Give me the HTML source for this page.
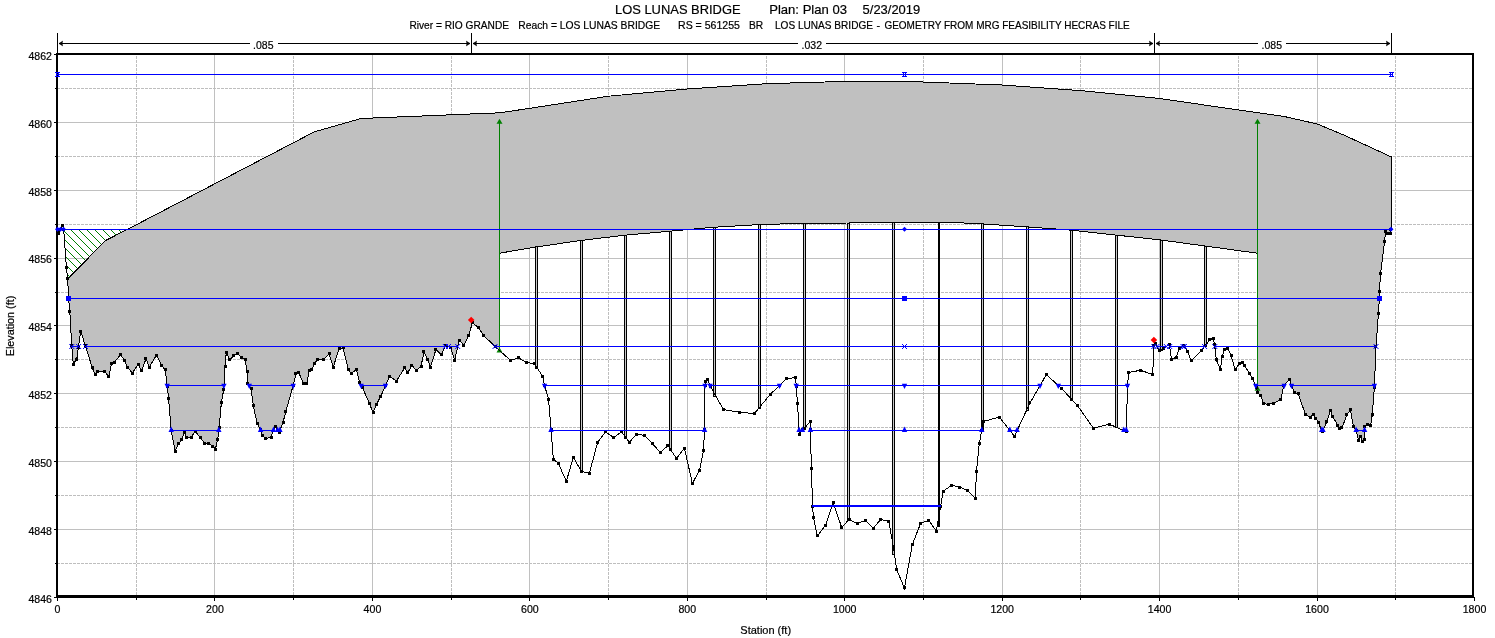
<!DOCTYPE html>
<html><head><meta charset="utf-8"><title>LOS LUNAS BRIDGE</title>
<style>html,body{margin:0;padding:0;background:#fff}svg{display:block}</style></head>
<body>
<svg width="1495" height="638" viewBox="0 0 1495 638" font-family="'Liberation Sans', Arial, sans-serif" fill="#000"><style>text{stroke:#000;stroke-width:0.2px}</style>
<rect width="1495" height="638" fill="#fff"/>
<g stroke="#c0c0c0" stroke-width="1" shape-rendering="crispEdges">
<line x1="214.5" y1="55" x2="214.5" y2="596"/>
<line x1="372.5" y1="55" x2="372.5" y2="596"/>
<line x1="529.5" y1="55" x2="529.5" y2="596"/>
<line x1="687.5" y1="55" x2="687.5" y2="596"/>
<line x1="844.5" y1="55" x2="844.5" y2="596"/>
<line x1="1002.5" y1="55" x2="1002.5" y2="596"/>
<line x1="1159.5" y1="55" x2="1159.5" y2="596"/>
<line x1="1317.5" y1="55" x2="1317.5" y2="596"/>
<line x1="58" y1="529.5" x2="1472" y2="529.5"/>
<line x1="58" y1="461.5" x2="1472" y2="461.5"/>
<line x1="58" y1="393.5" x2="1472" y2="393.5"/>
<line x1="58" y1="325.5" x2="1472" y2="325.5"/>
<line x1="58" y1="258.5" x2="1472" y2="258.5"/>
<line x1="58" y1="190.5" x2="1472" y2="190.5"/>
<line x1="58" y1="122.5" x2="1472" y2="122.5"/>
</g>
<g stroke="#bebebe" stroke-width="1" stroke-dasharray="3 1" shape-rendering="crispEdges">
<line x1="136.5" y1="56" x2="136.5" y2="596"/>
<line x1="293.5" y1="56" x2="293.5" y2="596"/>
<line x1="451.5" y1="56" x2="451.5" y2="596"/>
<line x1="608.5" y1="56" x2="608.5" y2="596"/>
<line x1="766.5" y1="56" x2="766.5" y2="596"/>
<line x1="923.5" y1="56" x2="923.5" y2="596"/>
<line x1="1080.5" y1="56" x2="1080.5" y2="596"/>
<line x1="1238.5" y1="56" x2="1238.5" y2="596"/>
<line x1="1395.5" y1="56" x2="1395.5" y2="596"/>
<line x1="57" y1="563.5" x2="1472" y2="563.5"/>
<line x1="57" y1="495.5" x2="1472" y2="495.5"/>
<line x1="57" y1="427.5" x2="1472" y2="427.5"/>
<line x1="57" y1="359.5" x2="1472" y2="359.5"/>
<line x1="57" y1="292.5" x2="1472" y2="292.5"/>
<line x1="57" y1="224.5" x2="1472" y2="224.5"/>
<line x1="57" y1="156.5" x2="1472" y2="156.5"/>
<line x1="57" y1="88.5" x2="1472" y2="88.5"/>
</g>
<g shape-rendering="crispEdges">
<path d="M56,53 H1474 V598 H56 Z M58,55 V595 H1472 V55 Z" fill="#000" fill-rule="evenodd"/>
<g stroke="#000" stroke-width="1">
<line x1="54" y1="597.5" x2="56" y2="597.5"/>
<line x1="55" y1="563.5" x2="56" y2="563.5"/>
<line x1="54" y1="529.5" x2="56" y2="529.5"/>
<line x1="55" y1="495.5" x2="56" y2="495.5"/>
<line x1="54" y1="461.5" x2="56" y2="461.5"/>
<line x1="55" y1="427.5" x2="56" y2="427.5"/>
<line x1="54" y1="393.5" x2="56" y2="393.5"/>
<line x1="55" y1="359.5" x2="56" y2="359.5"/>
<line x1="54" y1="325.5" x2="56" y2="325.5"/>
<line x1="55" y1="292.5" x2="56" y2="292.5"/>
<line x1="54" y1="258.5" x2="56" y2="258.5"/>
<line x1="55" y1="224.5" x2="56" y2="224.5"/>
<line x1="54" y1="190.5" x2="56" y2="190.5"/>
<line x1="55" y1="156.5" x2="56" y2="156.5"/>
<line x1="54" y1="122.5" x2="56" y2="122.5"/>
<line x1="55" y1="88.5" x2="56" y2="88.5"/>
<line x1="54" y1="54.5" x2="56" y2="54.5"/>
<line x1="57.5" y1="597" x2="57.5" y2="601"/>
<line x1="136.5" y1="597" x2="136.5" y2="600"/>
<line x1="214.5" y1="597" x2="214.5" y2="601"/>
<line x1="293.5" y1="597" x2="293.5" y2="600"/>
<line x1="372.5" y1="597" x2="372.5" y2="601"/>
<line x1="451.5" y1="597" x2="451.5" y2="600"/>
<line x1="529.5" y1="597" x2="529.5" y2="601"/>
<line x1="608.5" y1="597" x2="608.5" y2="600"/>
<line x1="687.5" y1="597" x2="687.5" y2="601"/>
<line x1="766.5" y1="597" x2="766.5" y2="600"/>
<line x1="844.5" y1="597" x2="844.5" y2="601"/>
<line x1="923.5" y1="597" x2="923.5" y2="600"/>
<line x1="1002.5" y1="597" x2="1002.5" y2="601"/>
<line x1="1080.5" y1="597" x2="1080.5" y2="600"/>
<line x1="1159.5" y1="597" x2="1159.5" y2="601"/>
<line x1="1238.5" y1="597" x2="1238.5" y2="600"/>
<line x1="1317.5" y1="597" x2="1317.5" y2="601"/>
<line x1="1395.5" y1="597" x2="1395.5" y2="600"/>
<line x1="1474.5" y1="597" x2="1474.5" y2="601"/>
</g></g>
<defs><pattern id="h" width="8" height="8" patternUnits="userSpaceOnUse" patternTransform="translate(1,0)"><path d="M-1,-1 L9,9 M-1,7 L1,9 M7,-1 L9,1" stroke="#008000" stroke-width="1" fill="none"/></pattern></defs>
<polygon points="63.7,229.5 127.2,229.5 105.2,240.7 67.8,279.0 66.4,267.2" fill="url(#h)"/>
<polygon points="67.8,279.0 105.2,240.7 127.8,229.2 314.2,131.9 361.0,118.5 499.5,112.8 529.4,108.4 608.4,96.2 687.4,89.0 766.4,83.7 842.0,81.5 900.0,81.5 922.8,82.0 1001.8,85.0 1080.8,90.6 1159.8,98.5 1238.8,110.0 1257.3,112.6 1284.3,116.5 1317.3,124.0 1345.5,135.8 1391.5,157.0 1391.5,229.3 1390.9,229.3 1390.9,233.8 1388.0,233.0 1385.6,231.3 1384.6,241.4 1380.6,273.4 1379.4,291.5 1379.4,298.2 1378.4,313.3 1376.0,346.8 1374.3,388.0 1372.3,414.8 1370.6,425.3 1367.3,424.7 1364.6,426.9 1364.6,439.6 1362.2,441.4 1360.3,436.3 1358.5,440.3 1356.3,430.8 1353.5,426.4 1350.4,410.0 1346.9,414.8 1342.0,428.0 1339.2,428.3 1337.7,425.0 1332.5,416.2 1330.6,410.6 1326.7,422.0 1322.3,432.0 1318.3,422.5 1315.8,418.3 1313.5,414.4 1310.2,417.2 1305.4,414.4 1298.2,393.5 1294.9,392.9 1291.6,385.8 1289.4,379.3 1283.9,385.8 1280.6,399.4 1274.0,403.4 1268.5,404.3 1263.8,403.7 1260.6,395.7 1257.5,392.3 1257.3,391.3 1257.3,253.2 1205.2,246.0 1160.8,240.0 1116.3,235.1 1071.9,230.2 1027.5,226.9 982.0,223.9 955.7,222.6 893.0,222.8 848.7,223.0 804.2,223.3 759.1,224.6 714.4,227.2 670.3,231.2 625.8,235.1 581.4,240.4 536.0,247.0 499.5,253.2 499.5,350.5 495.0,346.5 483.4,335.3 478.7,327.7 472.4,322.8 468.6,335.7 464.0,345.0 459.0,340.4 454.7,360.4 450.5,347.0 445.8,345.8 441.0,354.5 436.0,349.4 430.5,367.0 428.0,360.0 424.0,352.0 421.0,366.3 416.4,370.5 412.0,365.4 408.0,372.4 404.7,368.0 396.4,381.0 389.4,376.4 385.4,385.8 380.7,396.4 376.4,404.6 373.0,412.4 369.4,403.4 362.3,387.5 359.5,382.3 356.5,369.4 351.3,373.4 348.6,370.0 343.0,347.6 339.0,348.8 333.3,367.0 329.0,354.0 324.0,359.4 318.0,359.4 314.5,363.0 312.0,369.5 309.3,370.7 306.7,383.6 304.0,384.0 298.5,372.3 296.0,373.5 293.3,385.0 285.8,411.6 283.0,422.4 279.0,432.7 275.0,426.4 271.0,437.0 265.6,438.8 262.8,435.8 260.4,430.0 257.0,423.0 253.4,406.0 251.0,388.8 248.0,383.0 247.0,371.0 245.0,359.4 241.6,357.7 237.4,353.5 233.4,355.8 230.0,360.0 226.3,352.3 225.0,366.4 223.7,389.8 221.4,402.2 219.2,427.3 217.7,439.6 215.4,449.0 212.3,446.1 208.7,443.3 204.7,443.8 200.7,437.7 195.2,431.7 191.0,437.0 186.4,437.0 184.2,431.6 181.9,439.8 178.9,443.6 175.1,451.0 171.2,430.5 168.6,398.4 167.3,386.3 165.2,370.0 161.7,365.7 156.5,355.0 149.2,367.0 146.0,358.7 141.7,370.7 138.2,364.5 132.3,373.0 127.6,367.0 124.4,360.2 120.5,354.6 114.2,362.6 111.6,363.5 108.9,376.3 104.5,371.7 98.0,372.0 95.0,374.2 92.4,368.0 85.2,345.5 80.8,331.0 78.5,347.0 76.8,359.0 73.3,364.2 71.7,345.7 69.8,311.0 68.5,298.5" fill="#c0c0c0"/>
<g fill="none" stroke="#000" stroke-width="1" shape-rendering="crispEdges">
<polyline points="67.8,279.0 105.2,240.7 127.8,229.2 314.2,131.9 361.0,118.5 499.5,112.8 529.4,108.4 608.4,96.2 687.4,89.0 766.4,83.7 842.0,81.5 900.0,81.5 922.8,82.0 1001.8,85.0 1080.8,90.6 1159.8,98.5 1238.8,110.0 1257.3,112.6 1284.3,116.5 1317.3,124.0 1345.5,135.8 1391.5,157.0 1391.5,229.3"/>
<polyline points="499.5,253.2 536.0,247.0 581.4,240.4 625.8,235.1 670.3,231.2 714.4,227.2 759.1,224.6 804.2,223.3 848.7,223.0 893.0,222.8 955.7,222.6 982.0,223.9 1027.5,226.9 1071.9,230.2 1116.3,235.1 1160.8,240.0 1205.2,246.0 1257.3,253.2"/>
</g>
<g fill="#c8c8c8" stroke="#000" stroke-width="1" shape-rendering="crispEdges">
<rect x="535.5" y="246.9" width="2" height="121.4"/>
<rect x="580.5" y="240.4" width="2" height="231.3"/>
<rect x="624.5" y="235.1" width="2" height="203.8"/>
<rect x="669.5" y="231.2" width="2" height="219.5"/>
<rect x="713.5" y="227.2" width="2" height="169.0"/>
<rect x="758.5" y="224.6" width="2" height="183.8"/>
<rect x="803.5" y="223.3" width="2" height="206.3"/>
<rect x="847.5" y="223.0" width="2" height="297.7"/>
<rect x="892.5" y="222.8" width="2" height="331.4"/>
<rect x="937.5" y="222.7" width="2" height="304.3" fill="#000" stroke="none"/>
<rect x="981.5" y="223.9" width="2" height="207.0"/>
<rect x="1026.5" y="226.9" width="2" height="183.9"/>
<rect x="1070.5" y="230.2" width="2" height="170.5"/>
<rect x="1115.5" y="235.1" width="2" height="192.6"/>
<rect x="1160.5" y="240.1" width="2" height="110.1"/>
<rect x="1204.5" y="246.1" width="2" height="100.2"/>
</g>
<line x1="499.5" y1="121" x2="499.5" y2="350.5" stroke="#008000" stroke-width="1" shape-rendering="crispEdges"/>
<path d="M499.5,118.8 l-3,5 h6 z" fill="#008000"/>
<path d="M499.5,347.5 l-3,5 h6 z" fill="#008000"/>
<line x1="1257.5" y1="121" x2="1257.5" y2="391.3" stroke="#008000" stroke-width="1" shape-rendering="crispEdges"/>
<path d="M1257.5,118.8 l-3,5 h6 z" fill="#008000"/>
<path d="M1257.5,385.8 l-3,5 h6 z" fill="#008000"/>
<polyline points="57.5,229.5 58.2,233.0 60.0,230.0 62.8,225.5 63.7,229.7 66.4,267.2 67.7,278.5 68.5,298.5 69.8,311.0 71.7,345.7 73.3,364.2 76.8,359.0 78.5,347.0 80.8,331.0 85.2,345.5 92.4,368.0 95.0,374.2 98.0,372.0 104.5,371.7 108.9,376.3 111.6,363.5 114.2,362.6 120.5,354.6 124.4,360.2 127.6,367.0 132.3,373.0 138.2,364.5 141.7,370.7 146.0,358.7 149.2,367.0 156.5,355.0 161.7,365.7 165.2,370.0 167.3,386.3 168.6,398.4 171.2,430.5 175.1,451.0 178.9,443.6 181.9,439.8 184.2,431.6 186.4,437.0 191.0,437.0 195.2,431.7 200.7,437.7 204.7,443.8 208.7,443.3 212.3,446.1 215.4,449.0 217.7,439.6 219.2,427.3 221.4,402.2 223.7,389.8 225.0,366.4 226.3,352.3 230.0,360.0 233.4,355.8 237.4,353.5 241.6,357.7 245.0,359.4 247.0,371.0 248.0,383.0 251.0,388.8 253.4,406.0 257.0,423.0 260.4,430.0 262.8,435.8 265.6,438.8 271.0,437.0 275.0,426.4 279.0,432.7 283.0,422.4 285.8,411.6 293.3,385.0 296.0,373.5 298.5,372.3 304.0,384.0 306.7,383.6 309.3,370.7 312.0,369.5 314.5,363.0 318.0,359.4 324.0,359.4 329.0,354.0 333.3,367.0 339.0,348.8 343.0,347.6 348.6,370.0 351.3,373.4 356.5,369.4 359.5,382.3 362.3,387.5 369.4,403.4 373.0,412.4 376.4,404.6 380.7,396.4 385.4,385.8 389.4,376.4 396.4,381.0 404.7,368.0 408.0,372.4 412.0,365.4 416.4,370.5 421.0,366.3 424.0,352.0 428.0,360.0 430.5,367.0 436.0,349.4 441.0,354.5 445.8,345.8 450.5,347.0 454.7,360.4 459.0,340.4 464.0,345.0 468.6,335.7 472.4,322.8 478.7,327.7 483.4,335.3 495.0,346.5 510.5,360.4 518.7,358.0 526.4,362.3 534.7,364.0 542.6,376.2 544.6,385.7 548.6,399.3 551.0,430.0 553.4,459.3 558.3,463.3 566.3,481.2 573.4,457.4 581.6,471.6 589.4,473.2 597.6,442.4 605.4,431.8 613.6,437.5 621.6,431.8 629.3,442.4 636.4,434.2 644.4,435.3 652.4,443.6 660.4,452.5 668.0,445.5 676.4,458.4 684.4,448.3 692.4,483.3 699.6,470.4 703.4,450.6 704.6,430.0 705.0,385.3 705.0,381.0 707.4,379.4 710.5,386.4 723.4,409.5 739.4,412.3 754.4,413.5 770.4,394.2 779.3,385.7 786.4,378.7 795.6,377.5 796.3,386.4 797.5,403.6 799.3,434.2 802.9,430.0 810.4,421.2 810.4,430.0 811.4,468.3 812.6,506.6 813.5,517.6 817.3,536.0 825.4,525.4 833.3,502.5 841.7,527.6 849.0,519.4 857.4,523.5 865.5,520.4 873.4,528.2 880.6,519.4 888.7,521.3 893.4,546.7 896.6,569.3 904.4,588.0 912.3,544.5 920.7,523.2 928.6,520.4 936.4,531.0 940.5,506.6 943.3,491.0 951.8,485.3 959.6,487.1 967.7,490.6 975.3,498.4 976.5,471.5 979.3,443.3 981.8,430.4 983.2,421.5 999.4,417.1 1014.4,436.4 1030.0,402.9 1046.4,374.5 1061.7,388.7 1077.2,405.2 1093.4,428.2 1109.4,424.2 1126.3,431.6 1127.5,385.8 1128.7,372.4 1140.5,370.3 1152.7,374.5 1153.9,345.4 1155.0,343.3 1159.3,350.6 1163.3,348.7 1169.4,344.2 1171.5,359.5 1176.4,357.1 1179.3,348.7 1184.0,345.9 1187.5,351.0 1191.2,360.7 1201.1,350.6 1205.1,345.9 1209.8,340.0 1213.3,338.1 1214.5,344.2 1216.4,360.0 1220.4,369.4 1222.3,356.4 1224.4,349.4 1227.4,348.2 1231.0,355.3 1235.2,370.0 1239.2,363.5 1242.7,362.3 1244.6,365.5 1249.8,374.0 1252.5,378.4 1256.6,387.6 1257.5,392.3 1260.6,395.7 1263.8,403.7 1268.5,404.3 1274.0,403.4 1280.6,399.4 1283.9,385.8 1289.4,379.3 1291.6,385.8 1294.9,392.9 1298.2,393.5 1305.4,414.4 1310.2,417.2 1313.5,414.4 1315.8,418.3 1318.3,422.5 1322.3,432.0 1326.7,422.0 1330.6,410.6 1332.5,416.2 1337.7,425.0 1339.2,428.3 1342.0,428.0 1346.9,414.8 1350.4,410.0 1353.5,426.4 1356.3,430.8 1358.5,440.3 1360.3,436.3 1362.2,441.4 1364.6,439.6 1364.6,426.9 1367.3,424.7 1370.6,425.3 1372.3,414.8 1374.3,388.0 1376.0,346.8 1378.4,313.3 1379.4,298.2 1379.4,291.5 1380.6,273.4 1384.6,241.4 1385.6,231.3 1388.0,233.0 1390.9,233.8 1390.9,229.3" fill="none" stroke="#000" stroke-width="1" shape-rendering="crispEdges"/>
<g fill="#000" shape-rendering="crispEdges">
<rect x="56" y="228" width="3" height="3"/>
<rect x="57" y="232" width="3" height="3"/>
<rect x="58" y="228" width="3" height="3"/>
<rect x="61" y="224" width="3" height="3"/>
<rect x="62" y="228" width="3" height="3"/>
<rect x="65" y="266" width="3" height="3"/>
<rect x="66" y="277" width="3" height="3"/>
<rect x="67" y="297" width="3" height="3"/>
<rect x="68" y="310" width="3" height="3"/>
<rect x="70" y="344" width="3" height="3"/>
<rect x="72" y="363" width="3" height="3"/>
<rect x="75" y="358" width="3" height="3"/>
<rect x="77" y="346" width="3" height="3"/>
<rect x="79" y="330" width="3" height="3"/>
<rect x="84" y="344" width="3" height="3"/>
<rect x="91" y="366" width="3" height="3"/>
<rect x="94" y="373" width="3" height="3"/>
<rect x="96" y="370" width="3" height="3"/>
<rect x="103" y="370" width="3" height="3"/>
<rect x="107" y="375" width="3" height="3"/>
<rect x="110" y="362" width="3" height="3"/>
<rect x="113" y="361" width="3" height="3"/>
<rect x="119" y="353" width="3" height="3"/>
<rect x="123" y="359" width="3" height="3"/>
<rect x="126" y="366" width="3" height="3"/>
<rect x="131" y="372" width="3" height="3"/>
<rect x="137" y="363" width="3" height="3"/>
<rect x="140" y="369" width="3" height="3"/>
<rect x="144" y="357" width="3" height="3"/>
<rect x="148" y="366" width="3" height="3"/>
<rect x="155" y="354" width="3" height="3"/>
<rect x="160" y="364" width="3" height="3"/>
<rect x="164" y="368" width="3" height="3"/>
<rect x="166" y="385" width="3" height="3"/>
<rect x="167" y="397" width="3" height="3"/>
<rect x="170" y="429" width="3" height="3"/>
<rect x="174" y="450" width="3" height="3"/>
<rect x="177" y="442" width="3" height="3"/>
<rect x="180" y="438" width="3" height="3"/>
<rect x="183" y="430" width="3" height="3"/>
<rect x="185" y="436" width="3" height="3"/>
<rect x="190" y="436" width="3" height="3"/>
<rect x="194" y="430" width="3" height="3"/>
<rect x="199" y="436" width="3" height="3"/>
<rect x="203" y="442" width="3" height="3"/>
<rect x="207" y="442" width="3" height="3"/>
<rect x="211" y="445" width="3" height="3"/>
<rect x="214" y="448" width="3" height="3"/>
<rect x="216" y="438" width="3" height="3"/>
<rect x="218" y="426" width="3" height="3"/>
<rect x="220" y="401" width="3" height="3"/>
<rect x="222" y="388" width="3" height="3"/>
<rect x="224" y="365" width="3" height="3"/>
<rect x="225" y="351" width="3" height="3"/>
<rect x="228" y="358" width="3" height="3"/>
<rect x="232" y="354" width="3" height="3"/>
<rect x="236" y="352" width="3" height="3"/>
<rect x="240" y="356" width="3" height="3"/>
<rect x="244" y="358" width="3" height="3"/>
<rect x="246" y="370" width="3" height="3"/>
<rect x="246" y="382" width="3" height="3"/>
<rect x="250" y="387" width="3" height="3"/>
<rect x="252" y="404" width="3" height="3"/>
<rect x="256" y="422" width="3" height="3"/>
<rect x="259" y="428" width="3" height="3"/>
<rect x="261" y="434" width="3" height="3"/>
<rect x="264" y="437" width="3" height="3"/>
<rect x="270" y="436" width="3" height="3"/>
<rect x="274" y="425" width="3" height="3"/>
<rect x="278" y="431" width="3" height="3"/>
<rect x="282" y="421" width="3" height="3"/>
<rect x="284" y="410" width="3" height="3"/>
<rect x="292" y="384" width="3" height="3"/>
<rect x="294" y="372" width="3" height="3"/>
<rect x="297" y="371" width="3" height="3"/>
<rect x="302" y="382" width="3" height="3"/>
<rect x="305" y="382" width="3" height="3"/>
<rect x="308" y="369" width="3" height="3"/>
<rect x="310" y="368" width="3" height="3"/>
<rect x="313" y="362" width="3" height="3"/>
<rect x="316" y="358" width="3" height="3"/>
<rect x="322" y="358" width="3" height="3"/>
<rect x="328" y="352" width="3" height="3"/>
<rect x="332" y="366" width="3" height="3"/>
<rect x="338" y="347" width="3" height="3"/>
<rect x="342" y="346" width="3" height="3"/>
<rect x="347" y="368" width="3" height="3"/>
<rect x="350" y="372" width="3" height="3"/>
<rect x="355" y="368" width="3" height="3"/>
<rect x="358" y="381" width="3" height="3"/>
<rect x="361" y="386" width="3" height="3"/>
<rect x="368" y="402" width="3" height="3"/>
<rect x="372" y="411" width="3" height="3"/>
<rect x="375" y="403" width="3" height="3"/>
<rect x="379" y="395" width="3" height="3"/>
<rect x="384" y="384" width="3" height="3"/>
<rect x="388" y="375" width="3" height="3"/>
<rect x="395" y="380" width="3" height="3"/>
<rect x="403" y="366" width="3" height="3"/>
<rect x="406" y="371" width="3" height="3"/>
<rect x="410" y="364" width="3" height="3"/>
<rect x="415" y="369" width="3" height="3"/>
<rect x="420" y="365" width="3" height="3"/>
<rect x="422" y="350" width="3" height="3"/>
<rect x="426" y="358" width="3" height="3"/>
<rect x="429" y="366" width="3" height="3"/>
<rect x="434" y="348" width="3" height="3"/>
<rect x="440" y="353" width="3" height="3"/>
<rect x="444" y="344" width="3" height="3"/>
<rect x="449" y="346" width="3" height="3"/>
<rect x="453" y="359" width="3" height="3"/>
<rect x="458" y="339" width="3" height="3"/>
<rect x="462" y="344" width="3" height="3"/>
<rect x="467" y="334" width="3" height="3"/>
<rect x="471" y="321" width="3" height="3"/>
<rect x="477" y="326" width="3" height="3"/>
<rect x="482" y="334" width="3" height="3"/>
<rect x="494" y="345" width="3" height="3"/>
<rect x="509" y="359" width="3" height="3"/>
<rect x="517" y="356" width="3" height="3"/>
<rect x="525" y="361" width="3" height="3"/>
<rect x="533" y="362" width="3" height="3"/>
<rect x="541" y="375" width="3" height="3"/>
<rect x="543" y="384" width="3" height="3"/>
<rect x="547" y="398" width="3" height="3"/>
<rect x="550" y="428" width="3" height="3"/>
<rect x="552" y="458" width="3" height="3"/>
<rect x="557" y="462" width="3" height="3"/>
<rect x="565" y="480" width="3" height="3"/>
<rect x="572" y="456" width="3" height="3"/>
<rect x="580" y="470" width="3" height="3"/>
<rect x="588" y="472" width="3" height="3"/>
<rect x="596" y="441" width="3" height="3"/>
<rect x="604" y="430" width="3" height="3"/>
<rect x="612" y="436" width="3" height="3"/>
<rect x="620" y="430" width="3" height="3"/>
<rect x="628" y="441" width="3" height="3"/>
<rect x="635" y="433" width="3" height="3"/>
<rect x="643" y="434" width="3" height="3"/>
<rect x="651" y="442" width="3" height="3"/>
<rect x="659" y="451" width="3" height="3"/>
<rect x="666" y="444" width="3" height="3"/>
<rect x="675" y="457" width="3" height="3"/>
<rect x="683" y="447" width="3" height="3"/>
<rect x="691" y="482" width="3" height="3"/>
<rect x="698" y="469" width="3" height="3"/>
<rect x="702" y="449" width="3" height="3"/>
<rect x="703" y="428" width="3" height="3"/>
<rect x="704" y="384" width="3" height="3"/>
<rect x="704" y="380" width="3" height="3"/>
<rect x="706" y="378" width="3" height="3"/>
<rect x="709" y="385" width="3" height="3"/>
<rect x="722" y="408" width="3" height="3"/>
<rect x="738" y="411" width="3" height="3"/>
<rect x="753" y="412" width="3" height="3"/>
<rect x="769" y="393" width="3" height="3"/>
<rect x="778" y="384" width="3" height="3"/>
<rect x="785" y="377" width="3" height="3"/>
<rect x="794" y="376" width="3" height="3"/>
<rect x="795" y="385" width="3" height="3"/>
<rect x="796" y="402" width="3" height="3"/>
<rect x="798" y="433" width="3" height="3"/>
<rect x="801" y="428" width="3" height="3"/>
<rect x="809" y="420" width="3" height="3"/>
<rect x="809" y="428" width="3" height="3"/>
<rect x="810" y="467" width="3" height="3"/>
<rect x="811" y="505" width="3" height="3"/>
<rect x="812" y="516" width="3" height="3"/>
<rect x="816" y="534" width="3" height="3"/>
<rect x="824" y="524" width="3" height="3"/>
<rect x="832" y="501" width="3" height="3"/>
<rect x="840" y="526" width="3" height="3"/>
<rect x="848" y="518" width="3" height="3"/>
<rect x="856" y="522" width="3" height="3"/>
<rect x="864" y="519" width="3" height="3"/>
<rect x="872" y="527" width="3" height="3"/>
<rect x="879" y="518" width="3" height="3"/>
<rect x="887" y="520" width="3" height="3"/>
<rect x="892" y="545" width="3" height="3"/>
<rect x="895" y="568" width="3" height="3"/>
<rect x="903" y="586" width="3" height="3"/>
<rect x="911" y="543" width="3" height="3"/>
<rect x="919" y="522" width="3" height="3"/>
<rect x="927" y="519" width="3" height="3"/>
<rect x="935" y="530" width="3" height="3"/>
<rect x="939" y="505" width="3" height="3"/>
<rect x="942" y="490" width="3" height="3"/>
<rect x="950" y="484" width="3" height="3"/>
<rect x="958" y="486" width="3" height="3"/>
<rect x="966" y="489" width="3" height="3"/>
<rect x="974" y="497" width="3" height="3"/>
<rect x="975" y="470" width="3" height="3"/>
<rect x="978" y="442" width="3" height="3"/>
<rect x="980" y="429" width="3" height="3"/>
<rect x="982" y="420" width="3" height="3"/>
<rect x="998" y="416" width="3" height="3"/>
<rect x="1013" y="435" width="3" height="3"/>
<rect x="1028" y="401" width="3" height="3"/>
<rect x="1045" y="373" width="3" height="3"/>
<rect x="1060" y="387" width="3" height="3"/>
<rect x="1076" y="404" width="3" height="3"/>
<rect x="1092" y="427" width="3" height="3"/>
<rect x="1108" y="423" width="3" height="3"/>
<rect x="1125" y="430" width="3" height="3"/>
<rect x="1126" y="384" width="3" height="3"/>
<rect x="1127" y="371" width="3" height="3"/>
<rect x="1139" y="369" width="3" height="3"/>
<rect x="1151" y="373" width="3" height="3"/>
<rect x="1152" y="344" width="3" height="3"/>
<rect x="1154" y="342" width="3" height="3"/>
<rect x="1158" y="349" width="3" height="3"/>
<rect x="1162" y="347" width="3" height="3"/>
<rect x="1168" y="343" width="3" height="3"/>
<rect x="1170" y="358" width="3" height="3"/>
<rect x="1175" y="356" width="3" height="3"/>
<rect x="1178" y="347" width="3" height="3"/>
<rect x="1182" y="344" width="3" height="3"/>
<rect x="1186" y="350" width="3" height="3"/>
<rect x="1190" y="359" width="3" height="3"/>
<rect x="1200" y="349" width="3" height="3"/>
<rect x="1204" y="344" width="3" height="3"/>
<rect x="1208" y="338" width="3" height="3"/>
<rect x="1212" y="337" width="3" height="3"/>
<rect x="1213" y="343" width="3" height="3"/>
<rect x="1215" y="358" width="3" height="3"/>
<rect x="1219" y="368" width="3" height="3"/>
<rect x="1221" y="355" width="3" height="3"/>
<rect x="1223" y="348" width="3" height="3"/>
<rect x="1226" y="347" width="3" height="3"/>
<rect x="1230" y="354" width="3" height="3"/>
<rect x="1234" y="368" width="3" height="3"/>
<rect x="1238" y="362" width="3" height="3"/>
<rect x="1241" y="361" width="3" height="3"/>
<rect x="1243" y="364" width="3" height="3"/>
<rect x="1248" y="372" width="3" height="3"/>
<rect x="1251" y="377" width="3" height="3"/>
<rect x="1255" y="386" width="3" height="3"/>
<rect x="1256" y="391" width="3" height="3"/>
<rect x="1259" y="394" width="3" height="3"/>
<rect x="1262" y="402" width="3" height="3"/>
<rect x="1267" y="403" width="3" height="3"/>
<rect x="1272" y="402" width="3" height="3"/>
<rect x="1279" y="398" width="3" height="3"/>
<rect x="1282" y="384" width="3" height="3"/>
<rect x="1288" y="378" width="3" height="3"/>
<rect x="1290" y="384" width="3" height="3"/>
<rect x="1293" y="391" width="3" height="3"/>
<rect x="1297" y="392" width="3" height="3"/>
<rect x="1304" y="413" width="3" height="3"/>
<rect x="1309" y="416" width="3" height="3"/>
<rect x="1312" y="413" width="3" height="3"/>
<rect x="1314" y="417" width="3" height="3"/>
<rect x="1317" y="421" width="3" height="3"/>
<rect x="1321" y="430" width="3" height="3"/>
<rect x="1325" y="420" width="3" height="3"/>
<rect x="1329" y="409" width="3" height="3"/>
<rect x="1331" y="415" width="3" height="3"/>
<rect x="1336" y="424" width="3" height="3"/>
<rect x="1338" y="427" width="3" height="3"/>
<rect x="1340" y="426" width="3" height="3"/>
<rect x="1345" y="413" width="3" height="3"/>
<rect x="1349" y="408" width="3" height="3"/>
<rect x="1352" y="425" width="3" height="3"/>
<rect x="1355" y="429" width="3" height="3"/>
<rect x="1357" y="439" width="3" height="3"/>
<rect x="1359" y="435" width="3" height="3"/>
<rect x="1361" y="440" width="3" height="3"/>
<rect x="1363" y="438" width="3" height="3"/>
<rect x="1363" y="425" width="3" height="3"/>
<rect x="1366" y="423" width="3" height="3"/>
<rect x="1369" y="424" width="3" height="3"/>
<rect x="1371" y="413" width="3" height="3"/>
<rect x="1373" y="386" width="3" height="3"/>
<rect x="1374" y="345" width="3" height="3"/>
<rect x="1377" y="312" width="3" height="3"/>
<rect x="1378" y="297" width="3" height="3"/>
<rect x="1378" y="290" width="3" height="3"/>
<rect x="1379" y="272" width="3" height="3"/>
<rect x="1383" y="240" width="3" height="3"/>
<rect x="1384" y="230" width="3" height="3"/>
<rect x="1386" y="232" width="3" height="3"/>
<rect x="1389" y="232" width="3" height="3"/>
<rect x="1389" y="228" width="3" height="3"/>
</g>
<g stroke="#0000ff" stroke-width="1" shape-rendering="crispEdges">
<line x1="57" y1="74.5" x2="1391.5" y2="74.5"/>
<line x1="57" y1="229.5" x2="1391" y2="229.5"/>
<line x1="68.5" y1="298.5" x2="1379.4" y2="298.5"/>
<line x1="71.8" y1="346.5" x2="78.6" y2="346.5"/>
<line x1="85.5" y1="346.5" x2="445.4" y2="346.5"/>
<line x1="448.5" y1="346.5" x2="457.7" y2="346.5"/>
<line x1="495.0" y1="346.5" x2="1153.9" y2="346.5"/>
<line x1="1156.9" y1="346.5" x2="1166.3" y2="346.5"/>
<line x1="1169.7" y1="346.5" x2="1183.0" y2="346.5"/>
<line x1="1184.4" y1="346.5" x2="1204.6" y2="346.5"/>
<line x1="1214.8" y1="346.5" x2="1376.0" y2="346.5"/>
<line x1="167.2" y1="385.5" x2="223.9" y2="385.5"/>
<line x1="249.3" y1="385.5" x2="293.2" y2="385.5"/>
<line x1="361.2" y1="385.5" x2="385.5" y2="385.5"/>
<line x1="544.6" y1="385.5" x2="705.0" y2="385.5"/>
<line x1="710.1" y1="385.5" x2="779.5" y2="385.5"/>
<line x1="796.2" y1="385.5" x2="1040.0" y2="385.5"/>
<line x1="1058.3" y1="385.5" x2="1127.5" y2="385.5"/>
<line x1="1255.7" y1="385.5" x2="1284.2" y2="385.5"/>
<line x1="1291.5" y1="385.5" x2="1374.4" y2="385.5"/>
<line x1="171.2" y1="430.5" x2="218.8" y2="430.5"/>
<line x1="260.6" y1="430.5" x2="273.5" y2="430.5"/>
<line x1="277.6" y1="430.5" x2="279.9" y2="430.5"/>
<line x1="551.0" y1="430.5" x2="704.6" y2="430.5"/>
<line x1="799.1" y1="430.5" x2="802.5" y2="430.5"/>
<line x1="810.4" y1="430.5" x2="981.8" y2="430.5"/>
<line x1="1009.8" y1="430.5" x2="1017.1" y2="430.5"/>
<line x1="1123.8" y1="430.5" x2="1126.3" y2="430.5"/>
<line x1="1321.7" y1="430.5" x2="1323.0" y2="430.5"/>
<line x1="1356.1" y1="430.5" x2="1364.6" y2="430.5"/>
</g>
<rect x="812" y="505" width="129" height="2" fill="#0000ff" shape-rendering="crispEdges"/>
<path d="M55.0,72.5 h5 M55.0,76.5 h5 M56.5,72.5 v4 M58.5,72.5 v4" stroke="#0000ff" stroke-width="1" fill="none" shape-rendering="crispEdges"/>
<path d="M902.0,72.5 h5 M902.0,76.5 h5 M903.5,72.5 v4 M905.5,72.5 v4" stroke="#0000ff" stroke-width="1" fill="none" shape-rendering="crispEdges"/>
<path d="M1389.0,72.5 h5 M1389.0,76.5 h5 M1390.5,72.5 v4 M1392.5,72.5 v4" stroke="#0000ff" stroke-width="1" fill="none" shape-rendering="crispEdges"/>
<path d="M57.5,226.8 l2.5,2.5 l-2.5,2.5 l-2.5,-2.5 z" fill="#0000ff"/>
<path d="M60.5,226.8 l2.5,2.5 l-2.5,2.5 l-2.5,-2.5 z" fill="#0000ff"/>
<path d="M63.5,226.8 l2.5,2.5 l-2.5,2.5 l-2.5,-2.5 z" fill="#0000ff"/>
<path d="M904.5,226.8 l2.5,2.5 l-2.5,2.5 l-2.5,-2.5 z" fill="#0000ff"/>
<path d="M1391.0,226.8 l2.5,2.5 l-2.5,2.5 l-2.5,-2.5 z" fill="#0000ff"/>
<rect x="66.0" y="296.0" width="5" height="5" fill="#0000ff" shape-rendering="crispEdges"/>
<rect x="902.0" y="296.0" width="5" height="5" fill="#0000ff" shape-rendering="crispEdges"/>
<rect x="1376.9" y="296.0" width="5" height="5" fill="#0000ff" shape-rendering="crispEdges"/>
<path d="M902.0,344.0 l5,5 m-5,0 l5,-5" stroke="#0000ff" stroke-width="1" fill="none"/>
<path d="M904.5,389.0 l-2.7,-5.2 h5.4 z" fill="#0000ff"/>
<path d="M904.5,426.5 l-2.7,5.5 h5.4 z" fill="#0000ff"/>
<path d="M69.3,344.0 l5,5 m-5,0 l5,-5" stroke="#0000ff" stroke-width="1" fill="none"/>
<path d="M76.1,344.0 l5,5 m-5,0 l5,-5" stroke="#0000ff" stroke-width="1" fill="none"/>
<path d="M83.0,344.0 l5,5 m-5,0 l5,-5" stroke="#0000ff" stroke-width="1" fill="none"/>
<path d="M442.9,344.0 l5,5 m-5,0 l5,-5" stroke="#0000ff" stroke-width="1" fill="none"/>
<path d="M446.0,344.0 l5,5 m-5,0 l5,-5" stroke="#0000ff" stroke-width="1" fill="none"/>
<path d="M455.2,344.0 l5,5 m-5,0 l5,-5" stroke="#0000ff" stroke-width="1" fill="none"/>
<path d="M492.5,344.0 l5,5 m-5,0 l5,-5" stroke="#0000ff" stroke-width="1" fill="none"/>
<path d="M1151.4,344.0 l5,5 m-5,0 l5,-5" stroke="#0000ff" stroke-width="1" fill="none"/>
<path d="M1154.4,344.0 l5,5 m-5,0 l5,-5" stroke="#0000ff" stroke-width="1" fill="none"/>
<path d="M1163.8,344.0 l5,5 m-5,0 l5,-5" stroke="#0000ff" stroke-width="1" fill="none"/>
<path d="M1167.2,344.0 l5,5 m-5,0 l5,-5" stroke="#0000ff" stroke-width="1" fill="none"/>
<path d="M1180.5,344.0 l5,5 m-5,0 l5,-5" stroke="#0000ff" stroke-width="1" fill="none"/>
<path d="M1181.9,344.0 l5,5 m-5,0 l5,-5" stroke="#0000ff" stroke-width="1" fill="none"/>
<path d="M1202.1,344.0 l5,5 m-5,0 l5,-5" stroke="#0000ff" stroke-width="1" fill="none"/>
<path d="M1212.3,344.0 l5,5 m-5,0 l5,-5" stroke="#0000ff" stroke-width="1" fill="none"/>
<path d="M1373.5,344.0 l5,5 m-5,0 l5,-5" stroke="#0000ff" stroke-width="1" fill="none"/>
<path d="M167.2,389.0 l-2.7,-5.2 h5.4 z" fill="#0000ff"/>
<path d="M223.9,389.0 l-2.7,-5.2 h5.4 z" fill="#0000ff"/>
<path d="M249.3,389.0 l-2.7,-5.2 h5.4 z" fill="#0000ff"/>
<path d="M293.2,389.0 l-2.7,-5.2 h5.4 z" fill="#0000ff"/>
<path d="M361.2,389.0 l-2.7,-5.2 h5.4 z" fill="#0000ff"/>
<path d="M385.5,389.0 l-2.7,-5.2 h5.4 z" fill="#0000ff"/>
<path d="M544.6,389.0 l-2.7,-5.2 h5.4 z" fill="#0000ff"/>
<path d="M705.0,389.0 l-2.7,-5.2 h5.4 z" fill="#0000ff"/>
<path d="M710.1,389.0 l-2.7,-5.2 h5.4 z" fill="#0000ff"/>
<path d="M779.5,389.0 l-2.7,-5.2 h5.4 z" fill="#0000ff"/>
<path d="M796.2,389.0 l-2.7,-5.2 h5.4 z" fill="#0000ff"/>
<path d="M1040.0,389.0 l-2.7,-5.2 h5.4 z" fill="#0000ff"/>
<path d="M1058.3,389.0 l-2.7,-5.2 h5.4 z" fill="#0000ff"/>
<path d="M1127.5,389.0 l-2.7,-5.2 h5.4 z" fill="#0000ff"/>
<path d="M1255.7,389.0 l-2.7,-5.2 h5.4 z" fill="#0000ff"/>
<path d="M1284.2,389.0 l-2.7,-5.2 h5.4 z" fill="#0000ff"/>
<path d="M1291.5,389.0 l-2.7,-5.2 h5.4 z" fill="#0000ff"/>
<path d="M1374.4,389.0 l-2.7,-5.2 h5.4 z" fill="#0000ff"/>
<path d="M171.2,426.5 l-2.7,5.5 h5.4 z" fill="#0000ff"/>
<path d="M218.8,426.5 l-2.7,5.5 h5.4 z" fill="#0000ff"/>
<path d="M260.6,426.5 l-2.7,5.5 h5.4 z" fill="#0000ff"/>
<path d="M273.5,426.5 l-2.7,5.5 h5.4 z" fill="#0000ff"/>
<path d="M277.6,426.5 l-2.7,5.5 h5.4 z" fill="#0000ff"/>
<path d="M279.9,426.5 l-2.7,5.5 h5.4 z" fill="#0000ff"/>
<path d="M551.0,426.5 l-2.7,5.5 h5.4 z" fill="#0000ff"/>
<path d="M704.6,426.5 l-2.7,5.5 h5.4 z" fill="#0000ff"/>
<path d="M799.1,426.5 l-2.7,5.5 h5.4 z" fill="#0000ff"/>
<path d="M802.5,426.5 l-2.7,5.5 h5.4 z" fill="#0000ff"/>
<path d="M810.4,426.5 l-2.7,5.5 h5.4 z" fill="#0000ff"/>
<path d="M981.8,426.5 l-2.7,5.5 h5.4 z" fill="#0000ff"/>
<path d="M1009.8,426.5 l-2.7,5.5 h5.4 z" fill="#0000ff"/>
<path d="M1017.1,426.5 l-2.7,5.5 h5.4 z" fill="#0000ff"/>
<path d="M1123.8,426.5 l-2.7,5.5 h5.4 z" fill="#0000ff"/>
<path d="M1126.3,426.5 l-2.7,5.5 h5.4 z" fill="#0000ff"/>
<path d="M1321.7,426.5 l-2.7,5.5 h5.4 z" fill="#0000ff"/>
<path d="M1323.0,426.5 l-2.7,5.5 h5.4 z" fill="#0000ff"/>
<path d="M1356.1,426.5 l-2.7,5.5 h5.4 z" fill="#0000ff"/>
<path d="M1364.6,426.5 l-2.7,5.5 h5.4 z" fill="#0000ff"/>
<path d="M471.2,316.7 l3.3,3.3 l-3.3,3.3 l-3.3,-3.3 z" fill="#ff0000"/>
<path d="M1153.9,336.7 l3.3,3.3 l-3.3,3.3 l-3.3,-3.3 z" fill="#ff0000"/>
<g font-size="11">
<text x="28.5" y="602.5" textLength="23.5" lengthAdjust="spacingAndGlyphs">4846</text>
<text x="28.5" y="534.7" textLength="23.5" lengthAdjust="spacingAndGlyphs">4848</text>
<text x="28.5" y="466.8" textLength="23.5" lengthAdjust="spacingAndGlyphs">4850</text>
<text x="28.5" y="399.0" textLength="23.5" lengthAdjust="spacingAndGlyphs">4852</text>
<text x="28.5" y="331.2" textLength="23.5" lengthAdjust="spacingAndGlyphs">4854</text>
<text x="28.5" y="263.3" textLength="23.5" lengthAdjust="spacingAndGlyphs">4856</text>
<text x="28.5" y="195.5" textLength="23.5" lengthAdjust="spacingAndGlyphs">4858</text>
<text x="28.5" y="127.6" textLength="23.5" lengthAdjust="spacingAndGlyphs">4860</text>
<text x="28.5" y="59.8" textLength="23.5" lengthAdjust="spacingAndGlyphs">4862</text>
<text x="54.6" y="613" textLength="5.9" lengthAdjust="spacingAndGlyphs">0</text>
<text x="206.1" y="613" textLength="17.7" lengthAdjust="spacingAndGlyphs">200</text>
<text x="363.6" y="613" textLength="17.7" lengthAdjust="spacingAndGlyphs">400</text>
<text x="521.0" y="613" textLength="17.7" lengthAdjust="spacingAndGlyphs">600</text>
<text x="678.4" y="613" textLength="17.7" lengthAdjust="spacingAndGlyphs">800</text>
<text x="832.9" y="613" textLength="23.6" lengthAdjust="spacingAndGlyphs">1000</text>
<text x="990.4" y="613" textLength="23.6" lengthAdjust="spacingAndGlyphs">1200</text>
<text x="1147.8" y="613" textLength="23.6" lengthAdjust="spacingAndGlyphs">1400</text>
<text x="1305.2" y="613" textLength="23.6" lengthAdjust="spacingAndGlyphs">1600</text>
<text x="1462.7" y="613" textLength="23.6" lengthAdjust="spacingAndGlyphs">1800</text>
</g>
<text x="765.7" y="633.6" font-size="11" text-anchor="middle">Station (ft)</text>
<text transform="translate(14.3,326) rotate(-90)" font-size="10.8" text-anchor="middle">Elevation (ft)</text>
<g font-size="13.33">
<text x="615" y="14" textLength="125.6" lengthAdjust="spacingAndGlyphs">LOS LUNAS BRIDGE</text>
<text x="769.2" y="14" textLength="77.8" lengthAdjust="spacingAndGlyphs">Plan: Plan 03</text>
<text x="862.6" y="14" textLength="57.6" lengthAdjust="spacingAndGlyphs">5/23/2019</text>
</g>
<g font-size="10.67">
<text x="409.4" y="28.7" textLength="99.6" lengthAdjust="spacingAndGlyphs">River = RIO GRANDE</text>
<text x="518.3" y="28.7" textLength="141.8" lengthAdjust="spacingAndGlyphs">Reach = LOS LUNAS BRIDGE</text>
<text x="678" y="28.7" textLength="62" lengthAdjust="spacingAndGlyphs">RS = 561255</text>
<text x="748.9" y="28.7" textLength="14.2" lengthAdjust="spacingAndGlyphs">BR</text>
<text x="775" y="28.7" textLength="98" lengthAdjust="spacingAndGlyphs">LOS LUNAS BRIDGE</text>
<text x="876.5" y="28.7">-</text>
<text x="884.4" y="28.7" textLength="245.3" lengthAdjust="spacingAndGlyphs">GEOMETRY FROM MRG FEASIBILITY HECRAS FILE</text>
</g>
<g stroke="#000" stroke-width="1" fill="none">
<line x1="57.5" y1="33" x2="57.5" y2="54" shape-rendering="crispEdges"/>
<line x1="471.5" y1="33" x2="471.5" y2="54" shape-rendering="crispEdges"/>
<line x1="1154.5" y1="33" x2="1154.5" y2="54" shape-rendering="crispEdges"/>
<line x1="1391.5" y1="33" x2="1391.5" y2="54" shape-rendering="crispEdges"/>
<line x1="59.0" y1="43.5" x2="249.8" y2="43.5" shape-rendering="crispEdges"/>
<line x1="277.8" y1="43.5" x2="470.0" y2="43.5" shape-rendering="crispEdges"/>
<path d="M59.0,43.5 l3.6,-2.3 l-0.6,2.3 l0.6,2.3 z M470.0,43.5 l-3.6,-2.3 l0.6,2.3 l-0.6,2.3 z" fill="#000" stroke-width="0.6"/>
<line x1="473.0" y1="43.5" x2="798.3" y2="43.5" shape-rendering="crispEdges"/>
<line x1="826.3" y1="43.5" x2="1153.0" y2="43.5" shape-rendering="crispEdges"/>
<path d="M473.0,43.5 l3.6,-2.3 l-0.6,2.3 l0.6,2.3 z M1153.0,43.5 l-3.6,-2.3 l0.6,2.3 l-0.6,2.3 z" fill="#000" stroke-width="0.6"/>
<line x1="1156.0" y1="43.5" x2="1258.3" y2="43.5" shape-rendering="crispEdges"/>
<line x1="1286.3" y1="43.5" x2="1390.0" y2="43.5" shape-rendering="crispEdges"/>
<path d="M1156.0,43.5 l3.6,-2.3 l-0.6,2.3 l0.6,2.3 z M1390.0,43.5 l-3.6,-2.3 l0.6,2.3 l-0.6,2.3 z" fill="#000" stroke-width="0.6"/>
</g>
<g font-size="11">
<text x="253.1" y="49" textLength="20.4" lengthAdjust="spacingAndGlyphs">.085</text>
<text x="801.6" y="49" textLength="20.4" lengthAdjust="spacingAndGlyphs">.032</text>
<text x="1261.6" y="49" textLength="20.4" lengthAdjust="spacingAndGlyphs">.085</text>
</g>
</svg>
</body></html>
